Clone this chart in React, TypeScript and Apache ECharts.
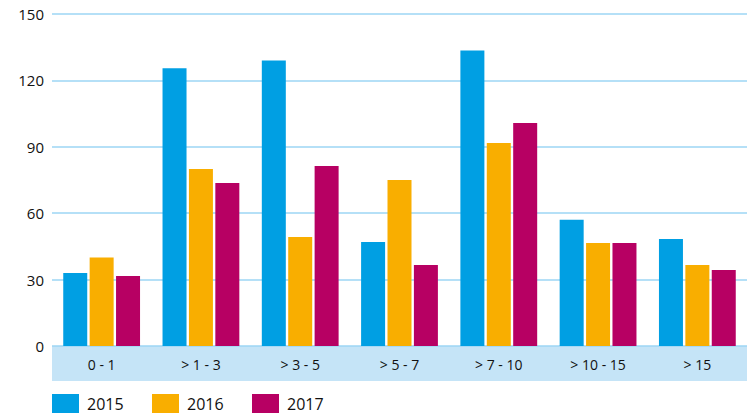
import React, { useEffect, useRef } from "react";
import * as echarts from "echarts";

const categories = ["0 - 1", "> 1 - 3", "> 3 - 5", "> 5 - 7", "> 7 - 10", "> 10 - 15", "> 15"];
const years = ["2015", "2016", "2017"];
const s2015 = [33, 125.5, 129, 47, 133.5, 57, 48.3];
const s2016 = [40, 80, 49.3, 75, 91.7, 46.5, 36.6];
const s2017 = [31.6, 73.7, 81.3, 36.6, 100.8, 46.5, 34.3];
const yTicks = { min: 0, max: 150, interval: 30 };

export default function App() {
  const ref = useRef<HTMLDivElement>(null);
  useEffect(() => {
    const chart = echarts.init(ref.current!, null, { renderer: "svg" });
    const font = "'Open Sans', Lato, sans-serif";
    const colors = ["#009FE3", "#F9AE00", "#B70063"];
    const values = [s2015, s2016, s2017];
    chart.setOption({
      animation: false,
      textStyle: { fontFamily: font },
      grid: { left: 52, right: 0, top: 14, bottom: 68 },
      graphic: [
        {
          type: "rect",
          left: 52,
          top: 346,
          z: -1,
          shape: { width: 695, height: 35 },
          style: { fill: "#C5E4F7" },
        },
      ],
      legend: years.map((y, i) => ({
        left: 52 + i * 100,
        top: 394,
        padding: 0,
        itemWidth: 27,
        itemHeight: 19,
        icon: "rect",
        textStyle: { fontSize: 16, color: "#111", padding: [0, 0, 0, 3], fontFamily: font },
        data: [y],
      })),
      xAxis: {
        type: "category",
        data: categories,
        axisLine: { show: false },
        axisTick: { show: false },
        axisLabel: { color: "#111", fontSize: 14, margin: 11, fontFamily: font },
      },
      yAxis: {
        type: "value",
        min: yTicks.min,
        max: yTicks.max,
        interval: yTicks.interval,
        axisLine: { show: false },
        axisTick: { show: false },
        axisLabel: { color: "#111", fontSize: 15, margin: 8, fontFamily: font },
        splitLine: { lineStyle: { color: "#9DD6F4", width: 1.5 } },
      },
      series: years.map((y, i) => ({
        name: y,
        type: "bar",
        data: values[i],
        barWidth: 24,
        barGap: "10%",
        itemStyle: { color: colors[i] },
      })),
    });
    return () => chart.dispose();
  }, []);
  return <div ref={ref} style={{ width: 747, height: 414, position: "absolute", left: 0, top: 0 }} />;
}
